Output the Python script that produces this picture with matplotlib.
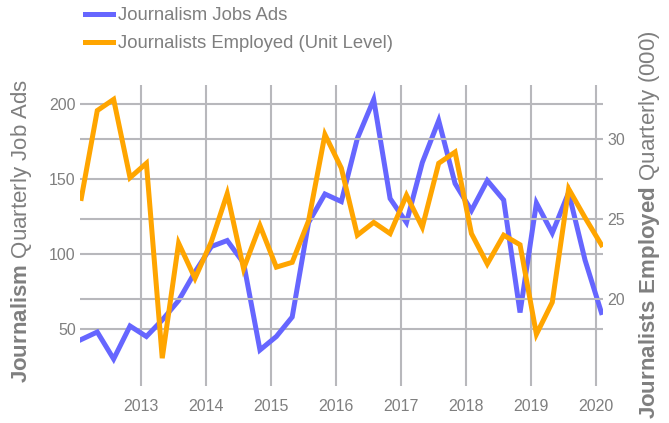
import numpy as np
import pandas as pd
import matplotlib
matplotlib.use("Agg")
import matplotlib.pyplot as plt

plt.rcParams['font.family'] = ['Liberation Sans', 'DejaVu Sans']
plt.rcParams['mathtext.fontset'] = 'custom'
plt.rcParams['mathtext.rm'] = 'Liberation Sans'
plt.rcParams['mathtext.bf'] = 'Liberation Sans:bold'

# quarterly data, Feb 2012 .. Feb 2020
dates = pd.date_range('2012-02-01', periods=33, freq='3MS')

job_ads = [43, 48, 30, 52, 45, 56, 69, 88, 105, 109, 94, 36, 45, 58, 121, 140,
           135, 177, 203, 137, 121, 161, 189, 147, 129, 149, 136, 61, 134, 114,
           141, 96, 61]
employed = [26.3, 31.8, 32.5, 27.6, 28.5, 16.3, 23.5, 21.3, 23.6, 26.6, 21.9,
            24.6, 22.0, 22.3, 24.9, 30.3, 28.2, 24.0, 24.8, 24.1, 26.5, 24.5,
            28.5, 29.2, 24.1, 22.2, 24.0, 23.4, 17.8, 19.8, 26.9, 25.1, 23.4]

left_ticks = [50, 100, 150, 200]
right_ticks = [20, 25, 30]
year_ticks = [str(y) for y in range(2013, 2021)]

blue = '#6666ff'
orange = '#ffa500'
grey = '#7f7f7f'
gridc = '#b8b8bc'

fig = plt.figure(figsize=(6.69, 4.23), dpi=100)
ax = fig.add_axes([80/669, 1-386/423, 523/669, 301/423])
ax2 = ax.twinx()

l1, = ax.plot(dates, job_ads, color=blue, lw=3.6, solid_joinstyle='miter')
l2, = ax2.plot(dates, employed, color=orange, lw=3.6, solid_joinstyle='miter')

ax.set_ylim(12, 212.7)
ax2.set_ylim(14.56, 33.4)
ax.set_xlim(pd.Timestamp('2012-01-25'), pd.Timestamp('2020-02-10'))
ax.set_yticks(left_ticks)
ax2.set_yticks(right_ticks)
ax.set_xticks([pd.Timestamp(y + '-01-01') for y in year_ticks])
ax.set_xticklabels(year_ticks)

for a in (ax, ax2):
    for s in a.spines.values():
        s.set_visible(False)
    a.tick_params(colors=grey, labelsize=11.5, length=0, pad=3)
    a.grid(True, axis='y', color=gridc, lw=1.5)
    a.set_axisbelow(True)
ax.grid(True, axis='x', color=gridc, lw=1.5)
ax.tick_params(axis='x', pad=9)

fig.text(22/669, 1-383/423, r'$\bf{Journalism}$ Quarterly Job Ads',
         rotation=90, ha='center', va='bottom', fontsize=16, color=grey)
fig.text(650/669, 1-30/423, r'$\bf{Journalists\ Employed}$ Quarterly (000)',
         rotation=90, ha='center', va='top', fontsize=16, color=grey)

fig.legend([l1, l2], ['Journalism Jobs Ads', 'Journalists Employed (Unit Level)'],
           loc='upper left', bbox_to_anchor=(85/669, 1-7/423), frameon=False,
           borderpad=0, borderaxespad=0,
           fontsize=13.3, labelcolor=grey, handlelength=1.5, handletextpad=0.27,
           labelspacing=0.6)

fig.savefig('out.png', dpi=100)
